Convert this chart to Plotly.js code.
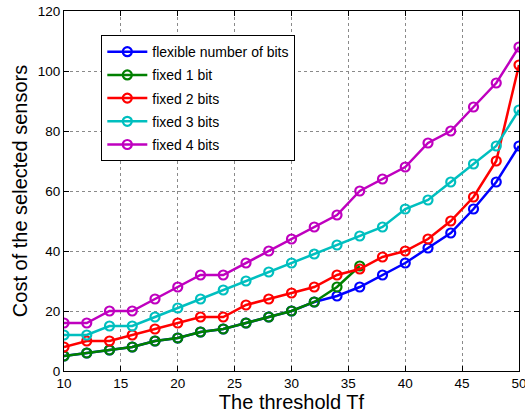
<!DOCTYPE html>
<html>
<head>
<meta charset="utf-8">
<script src="https://cdn.plot.ly/plotly-3.0.1.min.js"></script>
<style>html,body{margin:0;padding:0;background:#fff;}#chart{width:525px;height:415px;}</style>
</head>
<body>
<div id="chart"></div>
<script>
var thresholds = [10,12,14,16,18,20,22,24,26,28,30,32,34,36,38,40,42,44,46,48,50];
var thresholdsFixed1 = [10,12,14,16,18,20,22,24,26,28,30,32,34,36];
var flexibleBits = [5,6,7,8,10,11,13,14,16,18,20,23,25,28,32,36,41,46,54,63,75];
var fixed1Bit = [5,6,7,8,10,11,13,14,16,18,20,23,28,35];
var fixed2Bits = [8,10,10,12,14,16,18,18,22,24,26,28,32,34,38,40,44,50,58,70,102];
var fixed3Bits = [12,12,15,15,18,21,24,27,30,33,36,39,42,45,48,54,57,63,69,75,87];
var fixed4Bits = [16,16,20,20,24,28,32,32,36,40,44,48,52,60,64,68,76,80,88,96,108];
var seriesNames = ['flexible number of bits','fixed 1 bit','fixed 2 bits','fixed 3 bits','fixed 4 bits'];
var xTicks = [10,15,20,25,30,35,40,45,50];
var yTicks = [0,20,40,60,80,100,120];

var colors = ['#0000ff','#008000','#ff0000','#00bfbf','#bf00bf'];
var xs = [thresholds, thresholdsFixed1, thresholds, thresholds, thresholds];
var ys = [flexibleBits, fixed1Bit, fixed2Bits, fixed3Bits, fixed4Bits];
var traces = [];
for (var i = 0; i < 5; i++) {
  traces.push({
    x: xs[i], y: ys[i], name: seriesNames[i], type: 'scatter', mode: 'lines+markers',
    legendgroup: 'g' + i,
    line: {color: colors[i], width: 2.5},
    marker: {symbol: 'circle-open', size: 9, color: colors[i], line: {width: 2.2, color: colors[i]}}
  });
}
var fontFam = 'Liberation Sans, Arial, sans-serif';
var axisCommon = {
  showline: true, linecolor: '#000', linewidth: 1, mirror: 'ticks',
  ticks: 'inside', ticklen: 5, tickcolor: '#000',
  showgrid: true, gridcolor: '#8a8a8a', griddash: 'dot', gridwidth: 1,
  zeroline: false, ticklabeloverflow: 'allow',
  tickfont: {family: fontFam, size: 13.5, color: '#000'}
};
var layout = {
  width: 525, height: 415,
  margin: {l: 63.5, r: 5.5, t: 11, b: 44},
  paper_bgcolor: '#fff', plot_bgcolor: '#fff',
  showlegend: true,
  xaxis: Object.assign({}, axisCommon, {
    range: [10, 50], tickvals: xTicks, ticktext: xTicks.map(String),
    title: {text: 'The threshold Tf', font: {family: fontFam, size: 20, color: '#000'}, standoff: 1}
  }),
  yaxis: Object.assign({}, axisCommon, {
    range: [0, 120], tickvals: yTicks, ticktext: yTicks.map(String),
    title: {text: 'Cost of the selected sensors', font: {family: fontFam, size: 20, color: '#000'}, standoff: 4}
  }),
  legend: {
    x: 0.082, y: 0.933, xanchor: 'left', yanchor: 'top',
    bgcolor: '#fff', bordercolor: '#000', borderwidth: 1,
    font: {family: fontFam, size: 14, color: '#000'},
    tracegroupgap: 2,
    itemwidth: 40
  }
};
Plotly.newPlot('chart', traces, layout, {displayModeBar: false, staticPlot: true});
</script>
</body>
</html>
